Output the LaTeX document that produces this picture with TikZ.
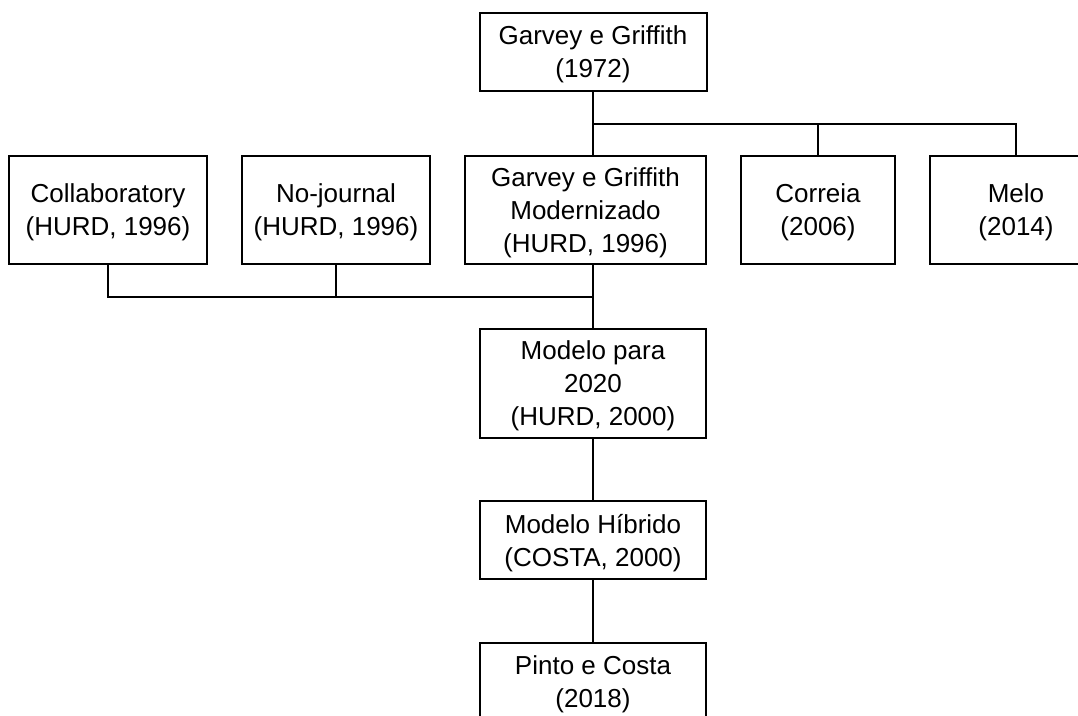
\documentclass[tikz,border=0pt]{standalone}
\usepackage{fontspec}
\setmainfont{Liberation Sans}
\usepackage{tikz}
\usetikzlibrary{positioning}
\tikzset{
  every picture/.style = {
    x = 1pt,
    y = -1pt,
    line width = 2pt,
  }
  ,
  model/.style = {
    rectangle,
    draw,
    align = center,
    inner sep = 0pt,
    font = \fontsize{26}{33}\selectfont,
    text depth = -2.5pt,
    minimum height = 78pt
  }
  , % taller boxes of the middle row
  model-row/.style = {
    model,
    minimum height = 108pt
  }
}

\begin{document}
\begin{tikzpicture}
    \useasboundingbox (0,0) rectangle (1078,715);
    \clip (0,0) rectangle (1078,715);
    \node[model, minimum width = 227pt] at (593,52) (gg) {Garvey e Griffith\\(1972)};
    \node[model-row, minimum width = 198pt] at (108,210) (collab) {Collaboratory\\(HURD, 1996)};
    \node[model-row, minimum width = 188pt] at (336,210) (nojour) {No-journal\\(HURD, 1996)};
    \node[model-row, minimum width = 241pt] at (585.5,210) (ggmod) {Garvey e Griffith\\Modernizado\\(HURD, 1996)};
    \node[model-row, minimum width = 154pt] at (818,210) (correia) {Correia\\(2006)};
    \node[model-row, minimum width = 172pt] at (1016,210) (melo) {Melo\\(2014)};
    \node[model, minimum width = 226pt, minimum height = 109pt] at (593,383.5) (m2020) {Modelo para\\2020\\(HURD, 2000)};
    \node[model, minimum width = 226pt] at (593,540) (hibrido) {Modelo Híbrido\\(COSTA, 2000)};
    \node[model, minimum width = 226pt] at (593,682) (pinto) {Pinto e Costa\\(2018)};
    \coordinate (jtop) at (593,124);
    \coordinate (jbot) at (593,297);
    \draw (gg) -- (jtop) -| (melo);
    \draw (jtop) -| (correia);
    \draw (jtop) -- (jtop |- ggmod.north);
    \draw (collab) |- (jbot);
    \draw (nojour) |- (jbot);
    \draw (jbot |- ggmod.south) -- (m2020);
    \draw (m2020) -- (hibrido);
    \draw (hibrido) -- (pinto);
\end{tikzpicture}
\end{document}
